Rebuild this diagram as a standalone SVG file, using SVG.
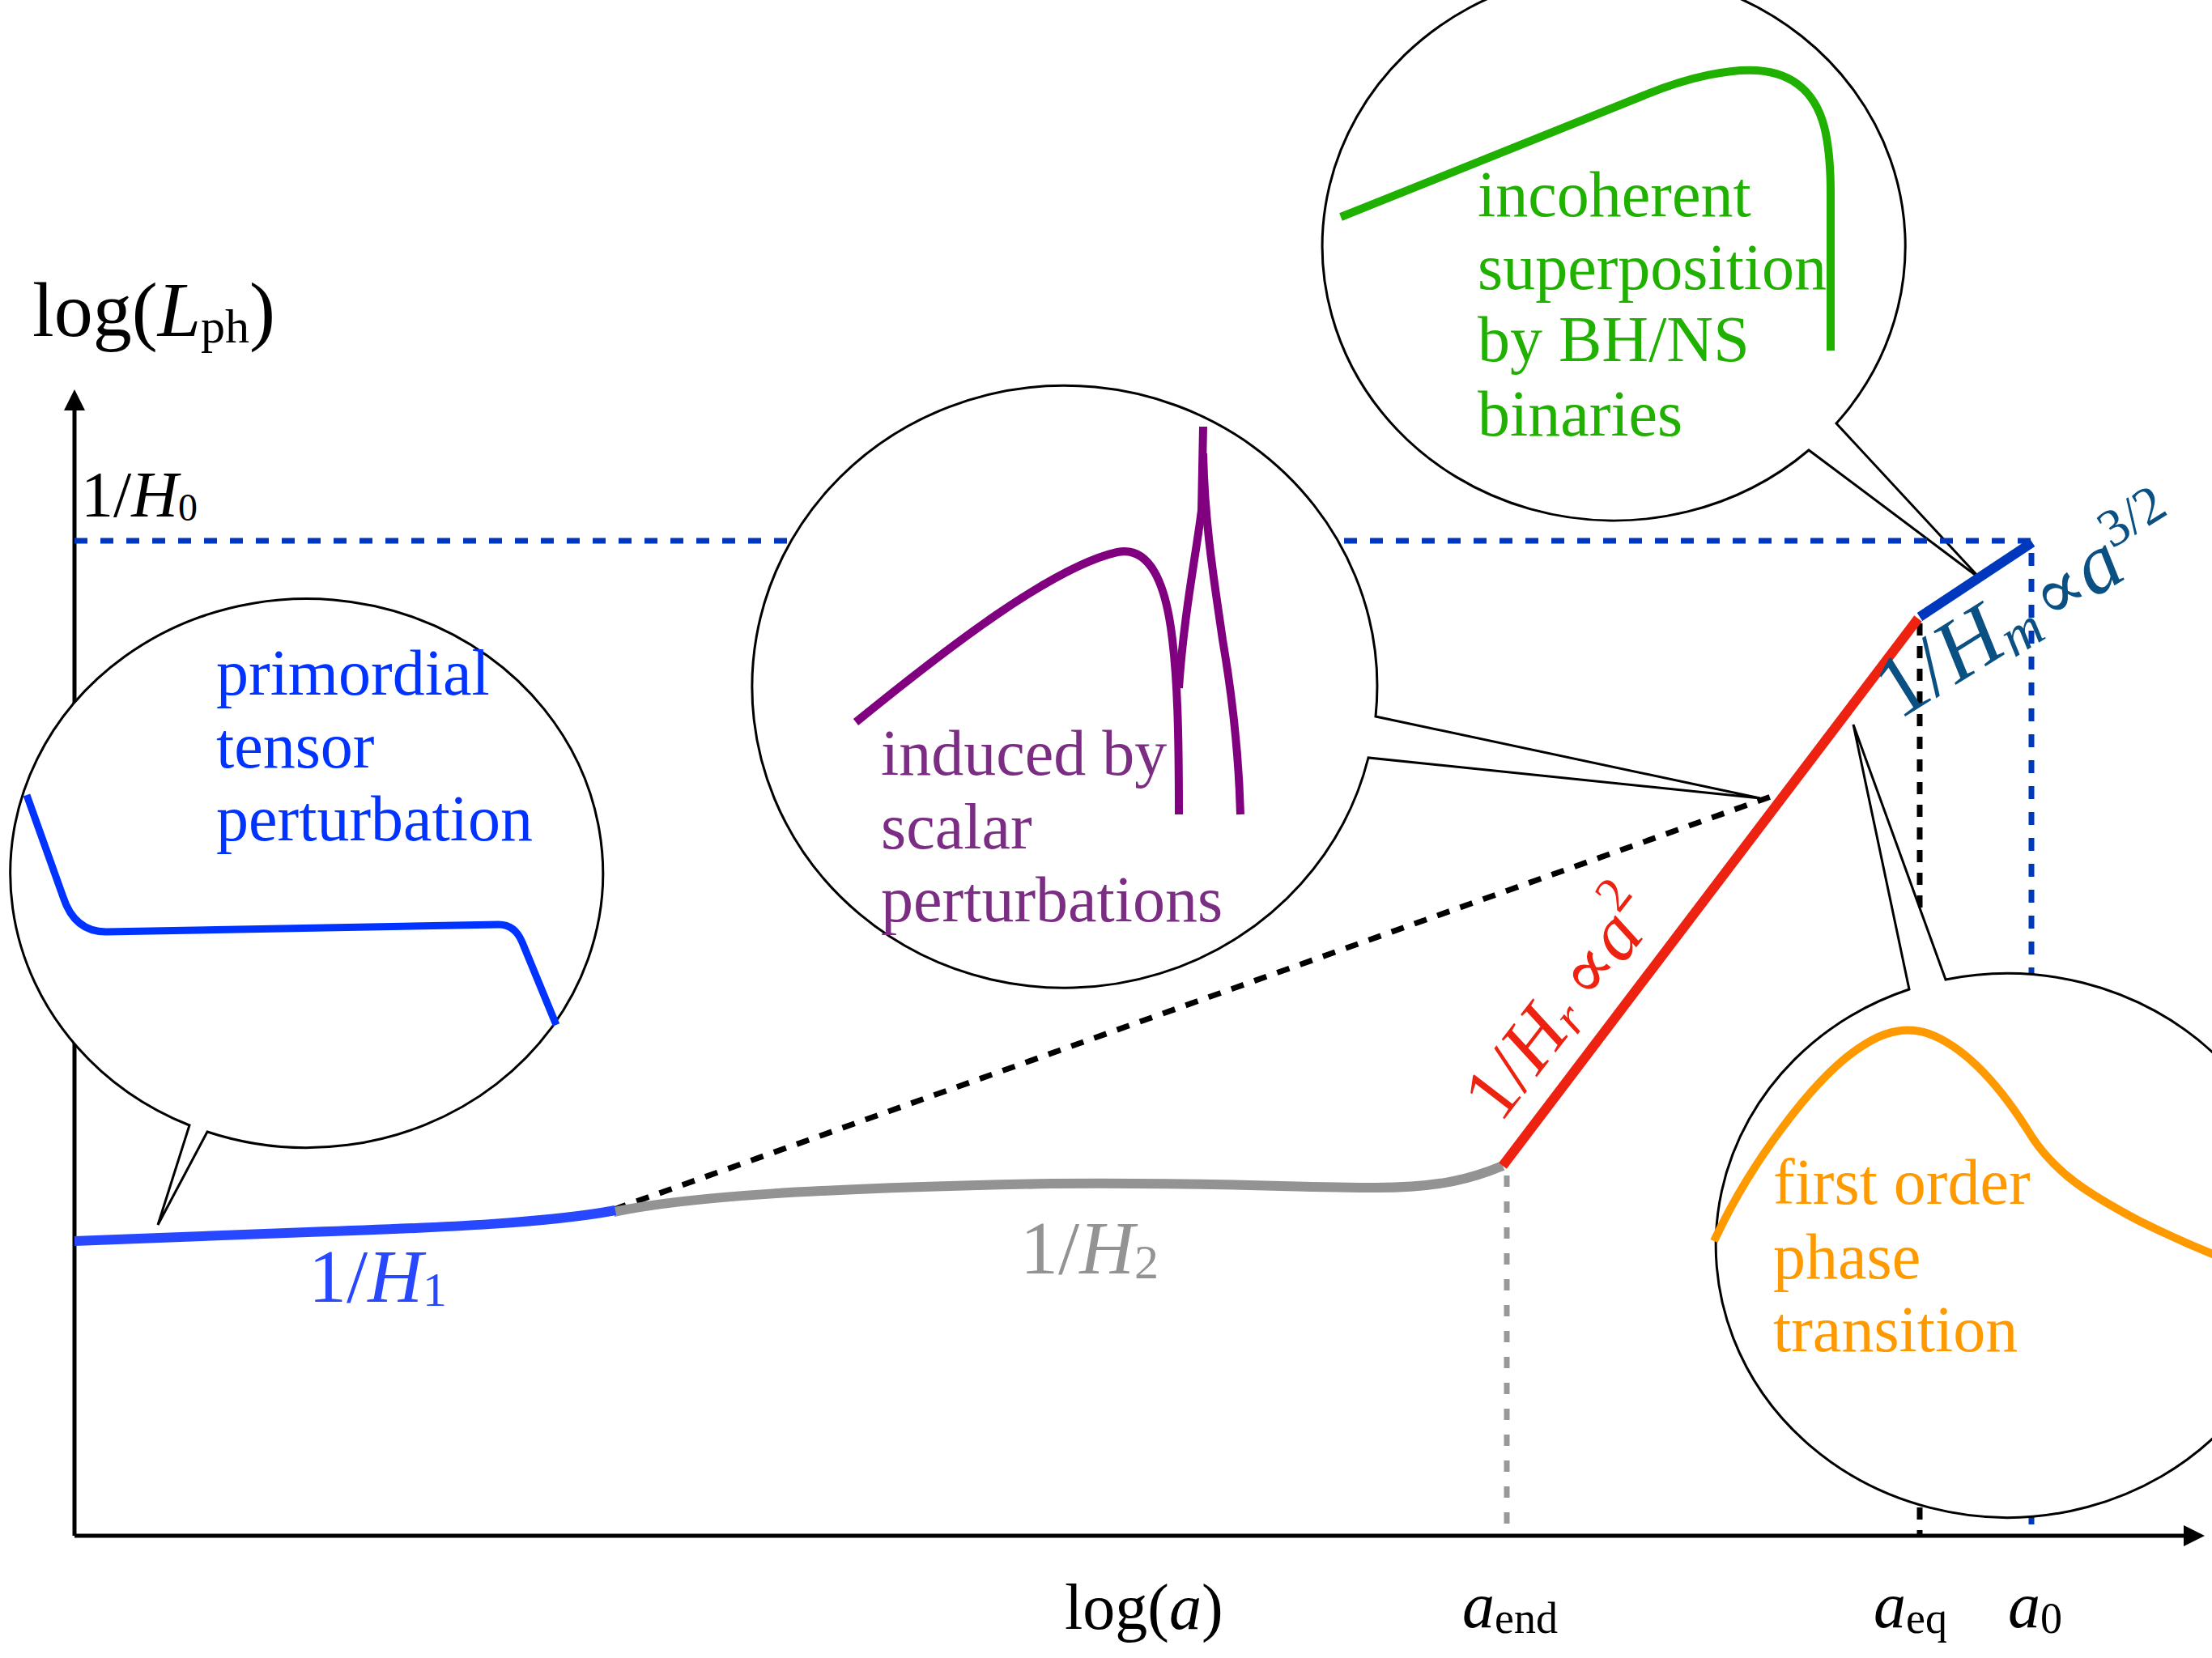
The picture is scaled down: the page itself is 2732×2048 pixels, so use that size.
<svg xmlns="http://www.w3.org/2000/svg" width="2732" height="2048" viewBox="0 0 2732 2048">
<style>
.t{font-family:"Liberation Serif","Times New Roman","DejaVu Serif",serif}
.i{font-style:italic}
.bub{fill:#fff;stroke:#000;stroke-width:3;stroke-linejoin:miter}
.crv{fill:none;stroke-linejoin:round}
.dash{fill:none;stroke-width:7}
</style>
<defs>
<marker id="arr" markerUnits="userSpaceOnUse" markerWidth="28" markerHeight="28" refX="1" refY="13" orient="auto">
<path d="M0,0 L26,13 L0,26 Z" fill="#000"/>
</marker>
</defs>
<rect width="2732" height="2048" fill="#fff"/>

<g id="bubble-binaries">
<path class="bub" d="M2234,556 A360,339 0 1 1 2268,523 L2446,715 Z"/>
<path class="crv" stroke="#20b000" stroke-width="10" d="M1656,268 L2030,118 C2090,93 2140,85 2170,87 C2215,90 2245,115 2255,165 C2260,190 2261,215 2261,240 L2261,433"/>
<text class="t" font-size="80" fill="#20b000"><tspan x="1825" y="267">incoherent</tspan><tspan x="1825" y="357">superposition</tspan><tspan x="1825" y="446">by BH/NS</tspan><tspan x="1825" y="538">binaries</tspan></text>
</g>

<g id="axes" stroke="#000" stroke-width="5" fill="none">
<path d="M92,1897 V506" marker-end="url(#arr)"/>
<path d="M92,1897 H2698" marker-end="url(#arr)"/>
</g>

<g id="connectors">
<path class="dash" stroke="#0038bd" stroke-dasharray="16 16" d="M92,668 H2509 V1896"/>
<path class="dash" stroke="#999" stroke-dasharray="14 18" d="M1861,1452 V1896"/>
<path class="dash" stroke="#000" stroke-dasharray="15 13" d="M2371,770 V1896"/>
<path class="dash" stroke="#000" stroke-width="8" stroke-dasharray="16 14" d="M758,1494 L2187,984"/>
<path class="crv" stroke="#939393" stroke-width="12" d="M758,1497 C850,1478 1000,1468 1300,1462 C1500,1460 1600,1467 1700,1467 C1780,1467 1820,1455 1856,1440"/>
<path class="crv" stroke="#2848ff" stroke-width="12" d="M92,1533 L380,1522 C560,1516 680,1510 760,1495"/>
<path class="crv" stroke="#ee2211" stroke-width="12" d="M1856,1440 L2369,764"/>
<path class="crv" stroke="#0038bd" stroke-width="12" d="M2371,762 L2510,670"/>
</g>

<g id="bubble-primordial">
<path class="bub" d="M256,1398 A366,339 0 1 0 234,1390 L195,1513 Z"/>
<path class="crv" stroke="#0033ff" stroke-width="9" d="M33,982 L78,1108 Q92,1151 131,1151 L616,1142 Q636,1142 645,1164 L687,1266"/>
<text class="t" font-size="80" fill="#0033ff"><tspan x="267" y="858">primordial</tspan><tspan x="267" y="948">tensor</tspan><tspan x="267" y="1038">perturbation</tspan></text>
</g>

<g id="bubble-scalar">
<path class="bub" d="M1690,936 A386,372 0 1 1 1699,885 L2174,986 Z"/>
<g class="crv" stroke="#800080" stroke-width="10">
<path d="M1057,892 C1170,800 1300,700 1380,682 C1420,674 1440,720 1448,790 C1454,840 1456,900 1456,1006"/>
<path d="M1456,850 C1462,760 1478,680 1484,630 L1486,527"/>
<path d="M1486,560 C1488,650 1500,720 1510,790 C1522,860 1530,930 1532,1006"/>
</g>
<text class="t" font-size="80" fill="#7b2d83"><tspan x="1088" y="957">induced by</tspan><tspan x="1088" y="1048">scalar</tspan><tspan x="1088" y="1138">perturbations</tspan></text>
</g>

<g id="bubble-phase">
<path class="bub" d="M2403,1210 A360,336 0 1 1 2358,1222 L2289,895 Z"/>
<path class="crv" stroke="#ff9900" stroke-width="10" d="M2117,1533 C2160,1440 2240,1330 2300,1292 C2330,1272 2360,1266 2390,1280 C2430,1298 2470,1340 2510,1405 C2540,1450 2580,1475 2640,1507 C2680,1527 2710,1540 2740,1552"/>
<text class="t" font-size="80" fill="#ff9900"><tspan x="2190" y="1487">first order</tspan><tspan x="2190" y="1579">phase</tspan><tspan x="2190" y="1669">transition</tspan></text>
</g>

<g id="labels" class="t">
<text x="40" y="415" font-size="96">log(<tspan class="i">L</tspan><tspan font-size="60" dy="8">ph</tspan><tspan dy="-8">)</tspan></text>
<text x="100" y="638" font-size="80">1/<tspan class="i">H</tspan><tspan font-size="48" dy="5">0</tspan></text>
<text x="381" y="1608" font-size="94" fill="#2848ff">1/<tspan class="i">H</tspan><tspan font-size="60" dy="5">1</tspan></text>
<text x="1260" y="1573" font-size="94" fill="#939393">1/<tspan class="i">H</tspan><tspan font-size="60" dy="6">2</tspan></text>
<text x="1315" y="2012" font-size="80">log(<tspan class="i">a</tspan>)</text>
<text x="1806" y="2010" font-size="80"><tspan class="i">a</tspan><tspan font-size="54" dy="7">end</tspan></text>
<text x="2314" y="2010" font-size="80"><tspan class="i">a</tspan><tspan font-size="54" dy="7">eq</tspan></text>
<text x="2480" y="2010" font-size="80"><tspan class="i">a</tspan><tspan font-size="54" dy="7">0</tspan></text>
<text transform="translate(1853,1389) rotate(-52.5)" font-size="96" fill="#ee2211">1/<tspan class="i">H</tspan><tspan class="i" font-size="62" dy="8">r</tspan><tspan font-size="90" dy="-8" dx="18">∝</tspan><tspan class="i">a</tspan><tspan font-size="62" dy="-42">2</tspan></text>
<text transform="translate(2345,890) rotate(-32)" font-size="108" fill="#0b5083">1/<tspan class="i">H</tspan><tspan class="i" font-size="68" dy="10">m</tspan><tspan font-size="92" dy="-10" dx="10">∝</tspan><tspan class="i" font-size="104">a</tspan><tspan font-size="66" dy="-40">3/2</tspan></text>
</g>
</svg>
